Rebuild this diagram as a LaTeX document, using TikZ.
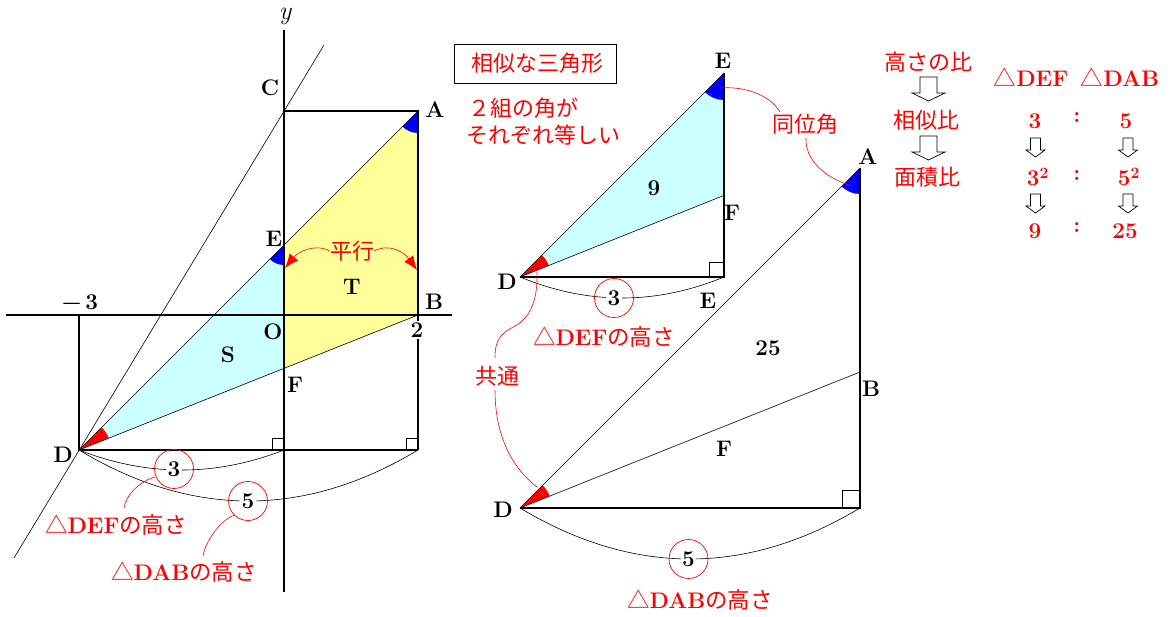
\documentclass[tikz,border=0pt]{standalone}
\usepackage{fontspec}
\newfontfamily\jpf{Noto Sans CJK JP}
\newcommand\jp{\jpf\mdseries}
\usetikzlibrary{arrows.meta,calc}
\definecolor{lcyan}{RGB}{204,255,255}
\definecolor{lyellow}{RGB}{255,255,153}
\newcommand\hollowarr[6]{%
  \draw[line width=0.7pt] (#1-#5,#2) -- (#1+#5,#2) -- (#1+#5,#3) -- (#1+#6,#3) -- (#1,#4) -- (#1-#6,#3) -- (#1-#5,#3) -- cycle;}
\begin{document}
\begin{tikzpicture}[x=1pt,y=-1pt,
  every node/.style={font=\fontsize{22.5}{26}\selectfont\bfseries, inner sep=0pt},
  jpt/.style={text=red, font=\fontsize{22}{26}\selectfont\jp},
  rt/.style={text=red},
  heavy/.style={line width=1.1pt},
  light/.style={line width=0.6pt},
  leader/.style={draw=red, line width=0.6pt},
  ring/.style={circle, draw=red, line width=0.7pt, minimum size=39pt},
  digit/.style={fill=white, inner sep=1.5pt},
  pararrow/.style={draw=red, line width=0.6pt, -{Latex[length=14pt,width=11pt]}},
]
\useasboundingbox (0,0) rectangle (1176,617);

% ---------- left figure ----------
\coordinate (O) at (284,315);
\coordinate (A) at (418,111);
\coordinate (B) at (418,315);
\coordinate (C) at (284,111);
\coordinate (E) at (284,245);
\coordinate (F) at (284,368.4);
\coordinate (D) at (79,450);
\coordinate (G) at (284,450);
\coordinate (H) at (418,450);
\coordinate (M) at (79,315);
\coordinate (xL) at (6,315);
\coordinate (xR) at (452,315);
\coordinate (yT) at (284,30);
\coordinate (yB) at (284,592);
\coordinate (lT) at (324,45);
\coordinate (lB) at (14,558);

\fill[lyellow] (E) -- (A) -- (B) -- (F) -- cycle;
\fill[lcyan] (D) -- (E) -- (F) -- cycle;
\fill[blue] (A) -- ++(225:22pt) arc[start angle=225,end angle=270,radius=22pt] -- cycle;
\fill[blue] (E) -- ++(225:20pt) arc[start angle=225,end angle=270,radius=20pt] -- cycle;
\fill[red] (D) -- ++(21.7:32pt) arc[start angle=21.7,end angle=45,radius=32pt] -- cycle;

\draw[heavy] (xL) -- (xR);
\draw[heavy] (yT) -- (yB);
\draw[heavy] (C) -- (A) -- (B) -- (H);
\draw[heavy] (M) -- (D) -- (H);
\draw[light] (D) -- (A);
\draw[light] (D) -- (B);
\draw[light] (lT) -- (lB);
\draw[light] ($(G)+(-12,0)$) -- ++(0,-12) -- ++(12,0);
\draw[light] ($(H)+(-12,0)$) -- ++(0,-12) -- ++(12,0);

\draw[light] (D) .. controls +(68.3,26.7) and +(-68.3,26.7) .. (G);
\draw[light] (D) .. controls +(113,68) and +(-113,68) .. (H);

\node[font=\fontsize{26}{28}\selectfont\itshape] (ly) at (285,16) {y};
\node (lC) at (270,88) {C};
\node (lA) at (435,110) {A};
\node (lE) at (274,239) {E};
\node (lT2) at (352,287) {T};
\node (lB2) at (434,302) {B};
\node (lm3) at (80,302) {−\,3};
\node (lO) at (273,332) {O};
\node[fill=white, inner sep=2pt] (l2) at (417,330) {2};
\node (lS) at (228,355) {S};
\node (lF) at (295,385) {F};
\node (lD) at (63,455) {D};

\node[jpt] (par) at (352,251) {平行};
\coordinate (pL) at (285,268);
\coordinate (pR) at (417,270);
\draw[pararrow] (par.west) .. controls +(-15,-8) and +(13,-16) .. (pL);
\draw[pararrow] (par.east) .. controls +(15,-8) and +(-13,-18) .. (pR);

\node[ring] (c3L) at (174,469) {};
\node[digit] (n3L) at (174,469) {3};
\node[ring] (c5L) at (248,501) {};
\node[digit] (n5L) at (248,501) {5};

\node[rt] (hDEFL) at (116,525) {{\jp △}DEF{\jp の高さ}};
\node[rt] (hDABL) at (184,572) {{\jp △}DAB{\jp の高さ}};
\coordinate (q1) at (155,477);
\coordinate (q2) at (124,508);
\coordinate (q3) at (235,515);
\coordinate (q4) at (203,556);
\draw[leader] (q1) .. controls +(-14,4) and +(2,-14) .. (q2);
\draw[leader] (q3) .. controls +(-14,4) and +(2,-14) .. (q4);

% ---------- title texts ----------
\node[draw, line width=0.8pt, minimum width=162pt, minimum height=39pt, jpt] (title) at (535,63.5) {\hspace*{4pt}相似な三角形};
\node[jpt, anchor=west] (cond1) at (468,108) {２組の角が};
\node[jpt, anchor=west] (cond2) at (466,135) {それぞれ等しい};

% ---------- middle upper triangle ----------
\coordinate (D2) at (520,277);
\coordinate (K2) at (724,277);
\coordinate (E2) at (724,73);
\coordinate (F2) at (724,195.4);
\fill[lcyan] (D2) -- (E2) -- (F2) -- cycle;
\fill[blue] (E2) -- ++(225:27pt) arc[start angle=225,end angle=270,radius=27pt] -- cycle;
\fill[red] (D2) -- ++(21.8:31pt) arc[start angle=21.8,end angle=45,radius=31pt] -- cycle;
\draw[heavy] (D2) -- (K2) -- (E2);
\draw[light] (D2) -- (E2);
\draw[light] (D2) -- (F2);
\draw[light] ($(K2)+(-15,0)$) -- ++(0,-15) -- ++(15,0);
\draw[light] (D2) .. controls +(68,28) and +(-68,28) .. (K2);
\node[ring] (c3M) at (614,298) {};
\node[digit] (n3M) at (614,298) {3};
\node (lE2) at (723,61) {E};
\node (lF2) at (732,213) {F};
\node (lD2) at (507,282) {D};
\node (lK2) at (708,301) {E};
\node (l9) at (654,188) {9};
\node[rt] (hDEFM) at (604,337) {{\jp △}DEF{\jp の高さ}};

% ---------- lower triangle ----------
\coordinate (D3) at (520,508);
\coordinate (K3) at (860,508);
\coordinate (A3) at (860,168);
\coordinate (B3) at (860,372);
\fill[blue] (A3) -- ++(225:26pt) arc[start angle=225,end angle=270,radius=26pt] -- cycle;
\fill[red] (D3) -- ++(21.8:32pt) arc[start angle=21.8,end angle=45,radius=32pt] -- cycle;
\draw[heavy] (D3) -- (K3) -- (A3);
\draw[light] (D3) -- (A3);
\draw[light] (D3) -- (B3);
\draw[light] ($(K3)+(-18,0)$) -- ++(0,-18) -- ++(18,0);
\draw[light] (D3) .. controls +(113.3,68) and +(-113.3,68) .. (K3);
\node[ring] (c5M) at (688.5,559) {};
\node[digit] (n5M) at (688.5,559) {5};
\node (lA3) at (868,157) {A};
\node (lB3) at (871,389) {B};
\node (lD3) at (503,510) {D};
\node (lF3) at (724,449) {F};
\node (l25) at (768,348) {25};
\node[rt] (hDABM) at (700,600) {{\jp △}DAB{\jp の高さ}};

% ---------- connecting remarks ----------
\node[jpt] (doui) at (805,124) {同位角};
\coordinate (r1) at (720,88);
\coordinate (r2) at (780,112);
\coordinate (r3) at (806,138);
\coordinate (r4) at (852,186);
\draw[leader] (r1) .. controls (745,86) and (770,95) .. (r2);
\draw[leader] (r3) .. controls (805,160) and (825,178) .. (r4);

\node[jpt] (kyo) at (497,376) {共通};
\coordinate (s1) at (537,272);
\coordinate (s2) at (515,326);
\coordinate (s3) at (495,358);
\coordinate (s4) at (495,390);
\coordinate (s5) at (537,487);
\draw[leader] (s1) .. controls (538,300) and (530,318) .. (s2) .. controls (500,334) and (495,340) .. (s3);
\draw[leader] (s4) .. controls (495,440) and (515,470) .. (s5);

% ---------- ratio table ----------
\node[jpt] (t1) at (928,62) {高さの比};
\node[jpt] (t2) at (926,120) {相似比};
\node[jpt] (t3) at (927,177) {面積比};
\hollowarr{928.5}{77}{93}{101}{8.5}{16.5}
\hollowarr{928.5}{136}{152}{160}{8.5}{16.5}
\node[rt] (hd1) at (1031,77) {{\jp △}DEF};
\node[rt] (hd2) at (1120,77) {{\jp △}DAB};
\node[rt] (a1) at (1035,121) {3};
\node[rt] (k1) at (1077,118) {:};
\node[rt] (b1) at (1126,121) {5};
\hollowarr{1035.5}{138}{150}{157}{5}{9.5}
\hollowarr{1128}{138}{150}{157}{5}{9.5}
\node[rt] (a2) at (1038,177) {3\textsuperscript{2}};
\node[rt] (k2) at (1077,176) {:};
\node[rt] (b2) at (1129,177) {5\textsuperscript{2}};
\hollowarr{1035.5}{194}{206}{213}{5}{9.5}
\hollowarr{1128}{194}{206}{213}{5}{9.5}
\node[rt] (a3) at (1035,231) {9};
\node[rt] (k3) at (1077,228) {:};
\node[rt] (b3) at (1125,231) {25};
\end{tikzpicture}
\end{document}
